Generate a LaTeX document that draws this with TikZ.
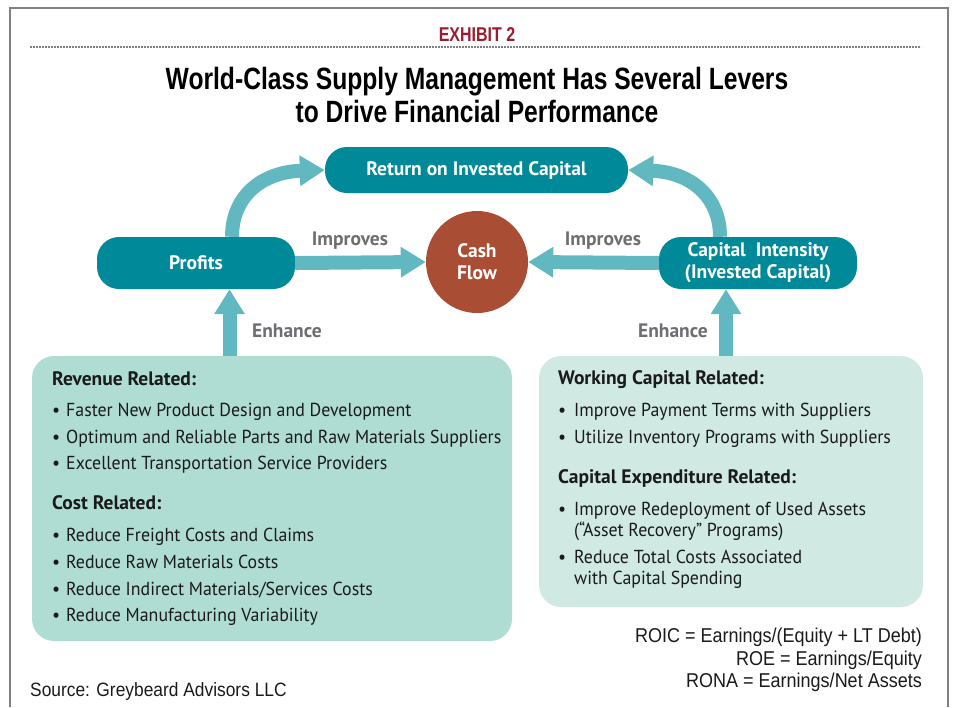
\documentclass[tikz,border=0pt]{standalone}
\usepackage{fontspec}
\setmainfont{PT Sans}
\newfontfamily\bodyfont[FakeStretch=0.95]{PT Sans}
\newfontfamily\condfont[FakeStretch=0.8]{Liberation Sans}
\newfontfamily\ratiofont[FakeStretch=0.9]{Liberation Sans}
\usetikzlibrary{arrows.meta}

\definecolor{deepteal}{HTML}{008A99}
\definecolor{paleteal}{HTML}{62B8C0}
\definecolor{rust}{HTML}{AA4D35}
\definecolor{mintA}{HTML}{B0DDD3}
\definecolor{mintB}{HTML}{D0EAE3}
\definecolor{labelgray}{HTML}{6D6E71}
\definecolor{exhibitred}{HTML}{9B1B30}
\definecolor{framegray}{HTML}{808080}
\definecolor{inkblack}{HTML}{1A1A1A}

\newcommand\bitem[2][14pt]{\makebox[#1][l]{•}#2}

\begin{document}
\begin{tikzpicture}[x=1pt,y=-1pt,
  pill/.style={rectangle, rounded corners=22pt, fill=deepteal, text=white,
    font=\fontsize{19.5}{22}\selectfont\bfseries, align=center, inner sep=0pt},
  panel/.style={rectangle, rounded corners=22pt, inner sep=0pt},
  fat/.style={draw=paleteal, line width=14pt,
    -{Triangle[length=25pt, width=29pt]}},
  lever/.style={font=\fontsize{19.5}{20}\selectfont\bfseries, text=labelgray, inner sep=0pt},
  head/.style={anchor=mid west, inner sep=0pt, text=inkblack,
    font=\fontsize{19.5}{20}\selectfont\bfseries},
  line/.style={anchor=mid west, inner sep=0pt, text=inkblack,
    font=\bodyfont\fontsize{18.8}{21}\selectfont},
  formula/.style={anchor=mid east, inner sep=0pt, text=inkblack,
    font=\ratiofont\fontsize{20}{22}\selectfont},
]
\useasboundingbox (0,0) rectangle (958,707);

% frame and header rule
\draw[framegray, line width=2pt] (9.5,707) -- (9.5,8) -- (948,8) -- (948,707);
\draw[framegray, line width=1.6pt, dash pattern=on 1.6pt off 1.4pt] (30,47) -- (921,47);

% headings
\node[font=\condfont\fontsize{20}{22}\selectfont\bfseries, text=exhibitred, inner sep=0pt]
  (exhibit) at (477,35) {EXHIBIT 2};
\node[font=\condfont\fontsize{30.8}{33}\selectfont\bfseries, align=center, inner sep=0pt]
  (title) at (477,95) {World-Class Supply Management Has Several Levers\\to Drive Financial Performance};

% main nodes
\node[pill, minimum width=303pt, minimum height=46pt] (roic) at (476.5,170) {Return on Invested Capital};
\node[pill, minimum width=198pt, minimum height=52pt] (profits) at (196,263) {Profits};
\node[pill, minimum width=198pt, minimum height=52pt] (capital) at (758,263) {Capital\ \ Intensity\\(Invested Capital)};
\node[circle, fill=rust, minimum size=102pt, inner sep=0pt, text=white, align=center,
  font=\fontsize{19.5}{22}\selectfont\bfseries] (cash) at (477,262) {Cash\\Flow};

% lever panels
\node[panel, fill=mintA, minimum width=480pt, minimum height=285pt] (revbox) at (272,498.5) {};
\node[panel, fill=mintB, minimum width=384pt, minimum height=251pt] (capbox) at (731,481.5) {};

% connectors
\draw[fat] (profits.east) -- (cash.west);
\draw[fat] (capital.west) -- (cash.east);
\draw[fat] ([xshift=36pt]profits.north) .. controls (232,196) and (262,172) .. (roic.west);
\draw[fat] ([xshift=-38pt]capital.north) .. controls (720,196) and (690,172) .. (roic.east);
\coordinate (pin) at ([xshift=33.5pt]profits.south);
\coordinate (cin) at ([xshift=-32pt]capital.south);
\draw[fat] (revbox.north -| pin) -- (pin);
\draw[fat] (capbox.north -| cin) -- (cin);

% connector labels
\node[lever] (imp1) at (350,241) {Improves};
\node[lever] (imp2) at (603,241) {Improves};
\node[lever] (enh1) at (287,331) {Enhance};
\node[lever] (enh2) at (673,331) {Enhance};

% revenue and cost levers
\node[head] (revh) at (52,383) {Revenue Related:};
\node[line] (rev1) at (52,414) {\bitem{Faster New Product Design and Development}};
\node[line] (rev2) at (52,441) {\bitem{Optimum and Reliable Parts and Raw Materials Suppliers}};
\node[line] (rev3) at (52,467) {\bitem{Excellent Transportation Service Providers}};
\node[head] (costh) at (52,507) {Cost Related:};
\node[line] (cost1) at (52,539) {\bitem{Reduce Freight Costs and Claims}};
\node[line] (cost2) at (52,566) {\bitem{Reduce Raw Materials Costs}};
\node[line] (cost3) at (52,593) {\bitem{Reduce Indirect Materials/Services Costs}};
\node[line] (cost4) at (52,619) {\bitem{Reduce Manufacturing Variability}};

% capital levers
\node[head] (wch) at (558,382) {Working Capital Related:};
\node[line] (wc1) at (558,414) {\bitem[16pt]{Improve Payment Terms with Suppliers}};
\node[line] (wc2) at (558,441) {\bitem[16pt]{Utilize Inventory Programs with Suppliers}};
\node[head] (cxh) at (558,481) {Capital Expenditure Related:};
\node[line] (cx1) at (558,513) {\bitem[16pt]{Improve Redeployment of Used Assets}};
\node[line] (cx1b) at (574,534) {(“Asset Recovery” Programs)};
\node[line] (cx2) at (558,561) {\bitem[16pt]{Reduce Total Costs Associated}};
\node[line] (cx2b) at (574,582) {with Capital Spending};

% ratios and source
\node[formula] (roicf) at (922,640) {ROIC = Earnings/(Equity + LT Debt)};
\node[formula] (roef) at (922,663) {ROE = Earnings/Equity};
\node[formula] (ronaf) at (922,685) {RONA = Earnings/Net Assets};
\node[formula, anchor=mid west, font=\ratiofont\fontsize{19.3}{22}\selectfont] (source) at (30,694) {Source: Greybeard Advisors LLC};
\end{tikzpicture}
\end{document}
